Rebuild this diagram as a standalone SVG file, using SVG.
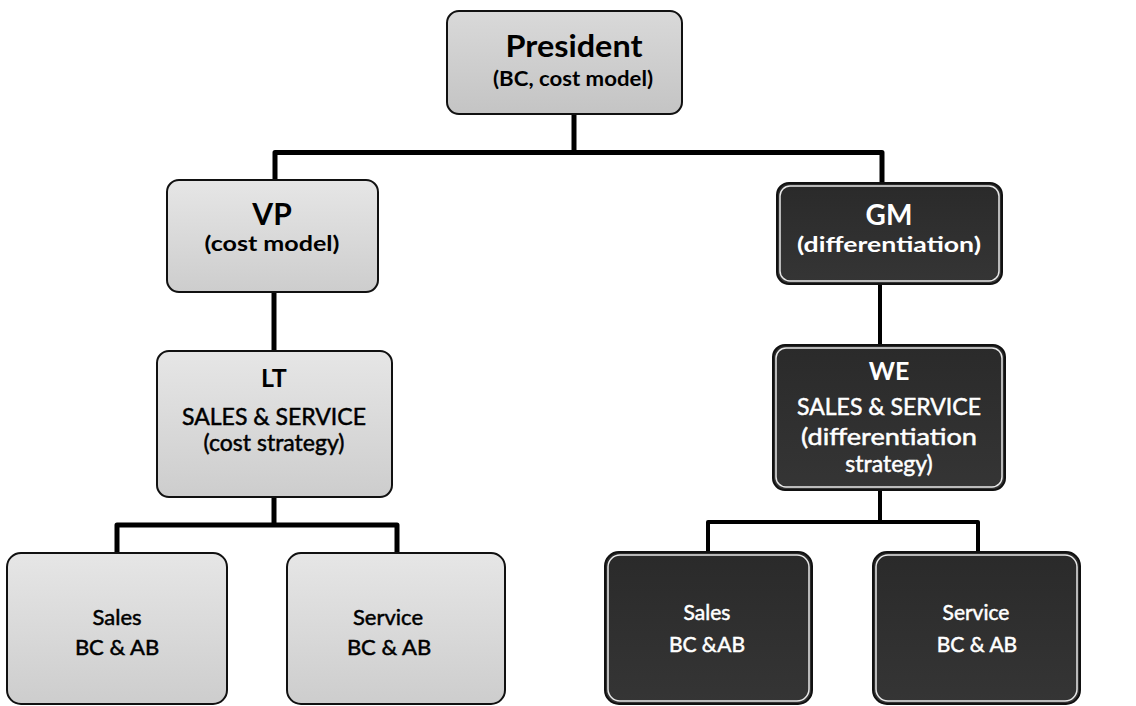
<svg xmlns="http://www.w3.org/2000/svg" width="1136" height="706" viewBox="0 0 1136 706">
<defs>
<linearGradient id="lg" x1="0" y1="0" x2="0" y2="1">
<stop offset="0" stop-color="#e6e6e6"/>
<stop offset="1" stop-color="#cdcdcd"/>
</linearGradient>
<linearGradient id="lgp" x1="0" y1="0" x2="0" y2="1">
<stop offset="0" stop-color="#d9d9d9"/>
<stop offset="1" stop-color="#c4c4c4"/>
</linearGradient>
<linearGradient id="dg" x1="0" y1="0" x2="0" y2="1">
<stop offset="0" stop-color="#2a2a2a"/>
<stop offset="1" stop-color="#353535"/>
</linearGradient>
<style>
.light{fill:url(#lg);stroke:#111;stroke-width:2}
.pres{fill:url(#lgp);stroke:#111;stroke-width:2}
.dark{fill:url(#dg);stroke:#111;stroke-width:2}
.inner{fill:none;stroke:#e8e8e8;stroke-width:1.5}
.conn{fill:none;stroke:#000;stroke-width:5;stroke-linejoin:round}
.connt{fill:none;stroke:#000;stroke-width:4;stroke-linejoin:round}
text{font-family:Lato,"Liberation Sans",sans-serif;text-anchor:middle}
.t{fill:#000}
.w{fill:#fff}
.b{font-weight:bold}
.m.t{stroke:#000;stroke-width:0.5}
.m.w{stroke:#fff;stroke-width:0.5}
</style>
</defs>
<rect width="1136" height="706" fill="#fff"/>
<g id="connectors">
<path class="conn" d="M574 114 V152.5 M275 180 V152.5 H882 V183"/>
<path class="conn" d="M274 292 V351"/>
<path class="connt" d="M880 284 V345"/>
<path class="conn" d="M274 497 V525 M117 553 V525 H397 V553"/>
<path class="connt" d="M880 490 V522 M708 552 V522 H978 V552"/>
</g>
<g id="president">
<rect class="pres" x="447" y="11" width="235" height="103" rx="12"/>
<text class="t b" x="574" y="57" font-size="31" textLength="137" lengthAdjust="spacingAndGlyphs">President</text>
<text class="t b" x="573" y="86" font-size="20" textLength="160" lengthAdjust="spacingAndGlyphs">(BC, cost model)</text>
</g>
<g id="vp">
<rect class="light" x="167" y="180" width="211" height="112" rx="12"/>
<text class="t b" x="272" y="225" font-size="30">VP</text>
<text class="t b" x="272" y="251" font-size="21" textLength="135" lengthAdjust="spacingAndGlyphs">(cost model)</text>
</g>
<g id="gm">
<rect class="dark" x="777" y="183" width="225" height="101" rx="12"/>
<rect class="inner" x="780" y="186" width="219" height="95" rx="10"/>
<text class="w b" x="889" y="225" font-size="28">GM</text>
<text class="w b" x="889" y="252" font-size="21" textLength="184" lengthAdjust="spacingAndGlyphs">(differentiation)</text>
</g>
<g id="lt">
<rect class="light" x="157" y="351" width="235" height="146" rx="12"/>
<text class="t b" x="274" y="387" font-size="25">LT</text>
<text class="t m" x="274" y="425" font-size="23">SALES &amp; SERVICE</text>
<text class="t m" x="274" y="451" font-size="23">(cost strategy)</text>
</g>
<g id="we">
<rect class="dark" x="773" y="345" width="232" height="145" rx="12"/>
<rect class="inner" x="776" y="348" width="226" height="139" rx="10"/>
<text class="w b" x="889" y="380" font-size="25">WE</text>
<text class="w m" x="889" y="415" font-size="23">SALES &amp; SERVICE</text>
<text class="w m" x="889" y="445" font-size="23" textLength="176" lengthAdjust="spacingAndGlyphs">(differentiation</text>
<text class="w m" x="889" y="472" font-size="23">strategy)</text>
</g>
<g id="sales-left">
<rect class="light" x="7" y="553" width="220" height="151" rx="14"/>
<text class="t m" x="117" y="625" font-size="22">Sales</text>
<text class="t m" x="117" y="655" font-size="22">BC &amp; AB</text>
</g>
<g id="service-left">
<rect class="light" x="287" y="553" width="218" height="151" rx="14"/>
<text class="t m" x="388" y="625" font-size="22">Service</text>
<text class="t m" x="389" y="655" font-size="22">BC &amp; AB</text>
</g>
<g id="sales-right">
<rect class="dark" x="605" y="552" width="207" height="152" rx="14"/>
<rect class="inner" x="608" y="555" width="201" height="146" rx="12"/>
<text class="w m" x="707" y="620" font-size="21">Sales</text>
<text class="w m" x="707" y="652" font-size="21">BC &amp;AB</text>
</g>
<g id="service-right">
<rect class="dark" x="873" y="552" width="207" height="152" rx="14"/>
<rect class="inner" x="876" y="555" width="201" height="146" rx="12"/>
<text class="w m" x="976" y="620" font-size="21">Service</text>
<text class="w m" x="977" y="652" font-size="21">BC &amp; AB</text>
</g>
</svg>
